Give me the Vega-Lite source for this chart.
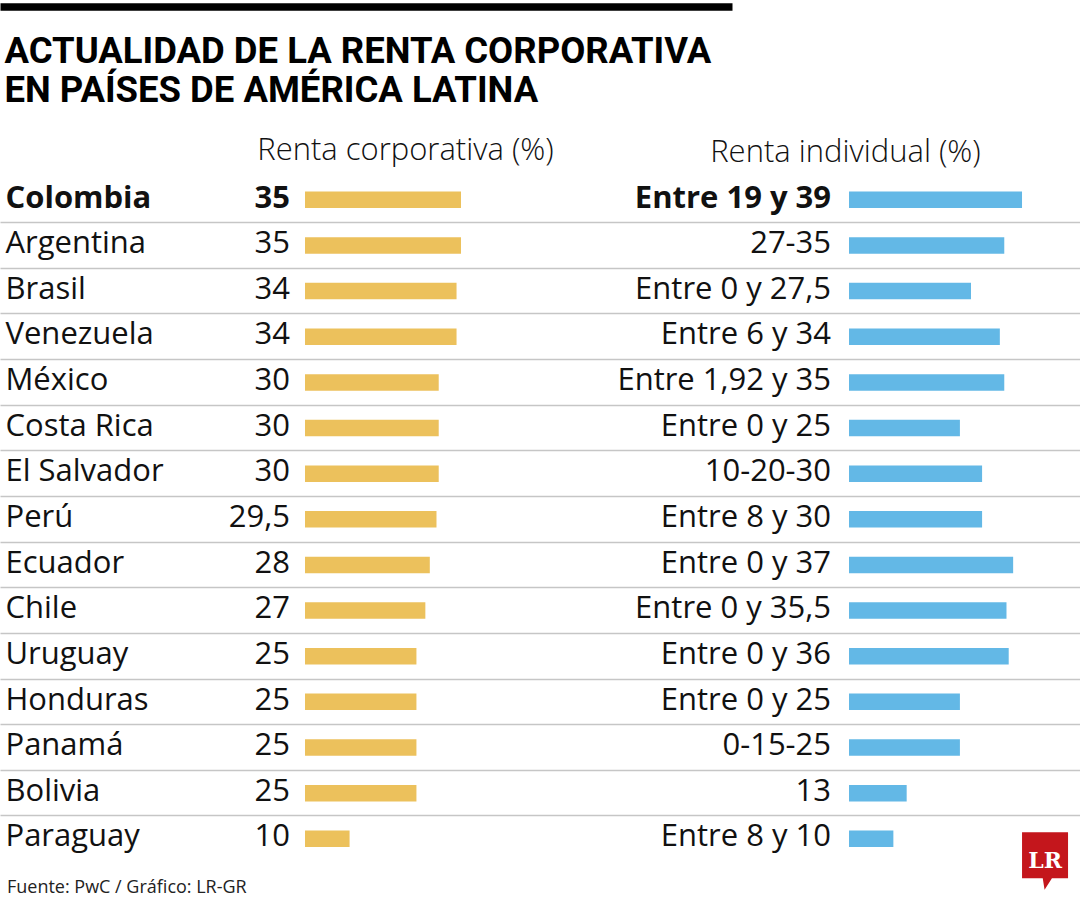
{
  "$schema": "https://vega.github.io/schema/vega-lite/v6.json",
  "width": 1080,
  "height": 684.6,
  "padding": {"top": 6, "left": 0, "right": 0, "bottom": 0},
  "background": "white",
  "config": {"view": {"stroke": null}},
  "title": {
    "text": "Fuente: PwC / Gráfico: LR-GR",
    "orient": "bottom",
    "anchor": "start",
    "frame": "group",
    "offset": -11,
    "dx": 7,
    "font": "Open Sans",
    "fontSize": 18,
    "fontWeight": "normal",
    "color": "#222222"
  },
  "data": {
    "values": [
      {"pais": "Colombia", "corp": 35, "corp_txt": "35", "ind": 39, "ind_txt": "Entre 19 y 39"},
      {"pais": "Argentina", "corp": 35, "corp_txt": "35", "ind": 35, "ind_txt": "27-35"},
      {"pais": "Brasil", "corp": 34, "corp_txt": "34", "ind": 27.5, "ind_txt": "Entre 0 y 27,5"},
      {"pais": "Venezuela", "corp": 34, "corp_txt": "34", "ind": 34, "ind_txt": "Entre 6 y 34"},
      {"pais": "México", "corp": 30, "corp_txt": "30", "ind": 35, "ind_txt": "Entre 1,92 y 35"},
      {"pais": "Costa Rica", "corp": 30, "corp_txt": "30", "ind": 25, "ind_txt": "Entre 0 y 25"},
      {"pais": "El Salvador", "corp": 30, "corp_txt": "30", "ind": 30, "ind_txt": "10-20-30"},
      {"pais": "Perú", "corp": 29.5, "corp_txt": "29,5", "ind": 30, "ind_txt": "Entre 8 y 30"},
      {"pais": "Ecuador", "corp": 28, "corp_txt": "28", "ind": 37, "ind_txt": "Entre 0 y 37"},
      {"pais": "Chile", "corp": 27, "corp_txt": "27", "ind": 35.5, "ind_txt": "Entre 0 y 35,5"},
      {"pais": "Uruguay", "corp": 25, "corp_txt": "25", "ind": 36, "ind_txt": "Entre 0 y 36"},
      {"pais": "Honduras", "corp": 25, "corp_txt": "25", "ind": 25, "ind_txt": "Entre 0 y 25"},
      {"pais": "Panamá", "corp": 25, "corp_txt": "25", "ind": 25, "ind_txt": "0-15-25"},
      {"pais": "Bolivia", "corp": 25, "corp_txt": "25", "ind": 13, "ind_txt": "13"},
      {"pais": "Paraguay", "corp": 10, "corp_txt": "10", "ind": 10, "ind_txt": "Entre 8 y 10"}
    ]
  },
  "encoding": {
    "y": {
      "field": "pais",
      "type": "nominal",
      "sort": null,
      "scale": {"paddingInner": 0, "paddingOuter": 0},
      "axis": {
        "orient": "left",
        "domain": false,
        "ticks": false,
        "tickSize": 0,
        "bandPosition": 0,
        "labelOffset": -1.3,
        "labelAlign": "left",
        "labelBaseline": "middle",
        "labelPadding": -5,
        "labelFont": "Open Sans",
        "labelFontSize": 31,
        "labelColor": "#111111",
        "labelLimit": 0,
        "labelOverlap": false,
        "labelFontWeight": {"condition": {"test": "datum.value === 'Colombia'", "value": "bold"}, "value": "normal"},
        "grid": true,
        "gridColor": "#c6c6c6",
        "gridWidth": 1.5,
        "gridOpacity": {"condition": {"test": "datum.value === 'Colombia'", "value": 0}, "value": 1},
        "title": ["ACTUALIDAD DE LA RENTA CORPORATIVA", "EN PAÍSES DE AMÉRICA LATINA"],
        "titleAngle": 0,
        "titleAlign": "left",
        "titleBaseline": "alphabetic",
        "titleX": 4,
        "titleY": -114.5,
        "titleFont": "Roboto",
        "titleFontSize": 36.5,
        "titleFontWeight": "bold",
        "titleColor": "#000000",
        "titleLineHeight": 39.5
      }
    }
  },
  "layer": [
    {
      "encoding": {
        "x": {
          "field": "ind",
          "type": "quantitative",
          "scale": {"domain": [-191.39, 52.07], "range": [0, 1080], "nice": false, "zero": false},
          "axis": {
            "orient": "top",
            "offset": 0,
            "domain": false,
            "labels": false,
            "ticks": false,
            "grid": false,
            "title": "Renta individual (%)",
            "titleX": 845,
            "titleY": -15.5,
            "titleAlign": "center",
            "titleBaseline": "alphabetic",
            "titleFont": "Open Sans",
            "titleFontSize": 31,
            "titleFontWeight": 300,
            "titleColor": "#111111"
          }
        }
      },
      "layer": [
        {"mark": {"type": "bar", "height": 16.5, "color": "#63B8E6"}},
        {
          "mark": {"type": "text", "align": "right", "baseline": "middle", "dx": -18, "dy": -1.3, "font": "Open Sans", "fontSize": 31, "color": "#111111", "fontWeight": {"expr": "datum.pais === 'Colombia' ? 'bold' : 'normal'"}},
          "encoding": {"x": {"datum": 0, "type": "quantitative"}, "text": {"field": "ind_txt"}}
        },
        {
          "transform": [{"filter": "datum.pais === 'Paraguay'"}],
          "mark": {"type": "point", "shape": "M -1 -1 H 1 V 1 H 0.3 L -0.02 1.5 L -0.1 1 H -1 Z", "filled": true, "color": "#C4161C", "opacity": 1, "size": 2116},
          "encoding": {
            "x": {"datum": 44.19, "type": "quantitative"},
            "y": {"field": "pais", "type": "nominal", "sort": null, "bandPosition": 0.86}
          }
        },
        {
          "transform": [{"filter": "datum.pais === 'Paraguay'"}],
          "mark": {"type": "text", "align": "center", "baseline": "middle", "font": "DejaVu Serif", "fontWeight": "bold", "fontSize": 22, "color": "#ffffff", "dy": 22},
          "encoding": {"x": {"datum": 44.19, "type": "quantitative"}, "text": {"value": "LR"}}
        }
      ]
    },
    {
      "encoding": {
        "x": {
          "field": "corp",
          "type": "quantitative",
          "scale": {"domain": [-68.43, 95.8], "range": [0, 732], "nice": false, "zero": false},
          "axis": {
            "orient": "top",
            "offset": 170.6,
            "domain": true,
            "domainColor": "#000000",
            "domainWidth": 7.5,
            "domainCap": "butt",
            "labels": false,
            "ticks": false,
            "grid": false,
            "title": "Renta corporativa (%)",
            "titleX": 405,
            "titleY": 153,
            "titleAlign": "center",
            "titleBaseline": "alphabetic",
            "titleFont": "Open Sans",
            "titleFontSize": 31,
            "titleFontWeight": 300,
            "titleColor": "#111111"
          }
        }
      },
      "layer": [
        {"mark": {"type": "bar", "height": 16.5, "color": "#ECC15C"}},
        {
          "mark": {"type": "text", "align": "right", "baseline": "middle", "dx": -15, "dy": -1.3, "font": "Open Sans", "fontSize": 31, "color": "#111111", "fontWeight": {"expr": "datum.pais === 'Colombia' ? 'bold' : 'normal'"}},
          "encoding": {"x": {"datum": 0, "type": "quantitative"}, "text": {"field": "corp_txt"}}
        }
      ]
    }
  ],
  "resolve": {"scale": {"x": "independent"}, "axis": {"x": "independent"}}
}
